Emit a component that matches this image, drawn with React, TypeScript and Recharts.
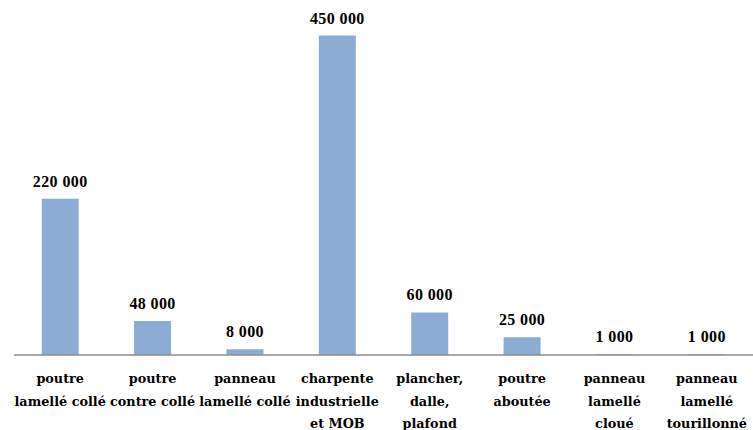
import { Bar, BarChart, LabelList, XAxis, YAxis } from "recharts";

const categories = [
  "poutre\nlamellé collé",
  "poutre\ncontre collé",
  "panneau\nlamellé collé",
  "charpente\nindustrielle\net MOB",
  "plancher,\ndalle,\nplafond",
  "poutre\naboutée",
  "panneau\nlamellé\ncloué",
  "panneau\nlamellé\ntourillonné",
];

const volumes = [220000, 48000, 8000, 450000, 60000, 25000, 1000, 1000];

const data = categories.map((name, i) => ({ name, volume: volumes[i] }));

const fmt = (v: number) =>
  String(v).replace(/\B(?=(\d{3})+(?!\d))/g, " ");

const CategoryTick = (props: any) => {
  const { x, y, payload } = props;
  const lines = String(payload.value).split("\n");
  return (
    <text
      x={x}
      y={y}
      textAnchor="middle"
      style={{
        fontFamily: "'DejaVu Serif', 'Liberation Serif', serif",
        fontWeight: 700,
        fontSize: 12.8,
      }}
      fill="#000"
    >
      {lines.map((line, i) => (
        <tspan key={i} x={x} y={y + 20 + i * 22.5}>
          {line}
        </tspan>
      ))}
    </text>
  );
};

const ValueLabel = (props: any) => {
  const { x, y, width, value } = props;
  return (
    <text
      x={x + width / 2}
      y={y - 12}
      textAnchor="middle"
      style={{
        fontFamily: "'Liberation Serif', serif",
        fontWeight: 700,
        fontSize: 16,
        letterSpacing: 0.4,
      }}
      fill="#000"
    >
      {fmt(Number(value))}
    </text>
  );
};

export default function App() {
  return (
    <div style={{ position: "absolute", left: 0, top: 0, background: "#fff" }}>
      <BarChart
        width={753}
        height={430}
        data={data}
        margin={{ top: 0, right: 0, bottom: 0, left: 14 }}
        barCategoryGap="30%"
      >
        <XAxis
          dataKey="name"
          interval={0}
          tickLine={false}
          axisLine={{ stroke: "#8c8c8c", strokeWidth: 1.5 }}
          height={75}
          tick={<CategoryTick />}
        />
        <YAxis hide domain={[0, 500000]} />
        <Bar dataKey="volume" fill="#8cadd3" isAnimationActive={false}>
          <LabelList dataKey="volume" content={<ValueLabel />} />
        </Bar>
      </BarChart>
    </div>
  );
}
